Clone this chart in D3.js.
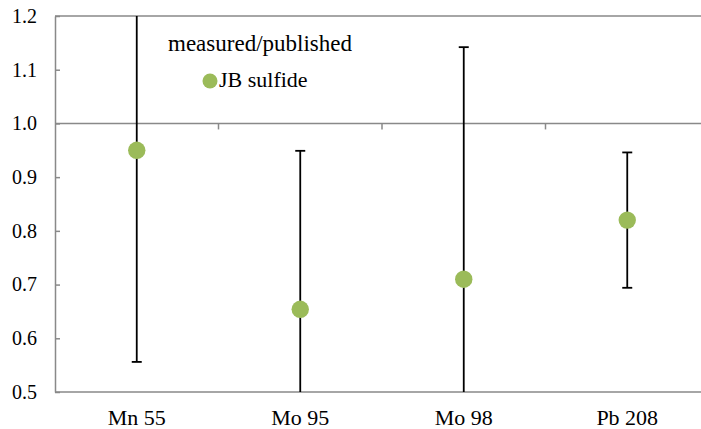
<!DOCTYPE html>
<html>
<head>
<meta charset="utf-8">
<script src="https://cdn.jsdelivr.net/npm/d3@7"></script>
<style>
  body { margin: 0; background: #fff; }
  svg text { font-family: "Liberation Serif", serif; fill: #000; }
</style>
</head>
<body>
<svg id="chart" width="701" height="429" font-family="Liberation Serif"></svg>
<script>
var categories = ["Mn 55", "Mo 95", "Mo 98", "Pb 208"];
var ratios = [0.95, 0.654, 0.71, 0.82];
var errors = [0.394, 0.295, 0.432, 0.126];
var yTicks = [0.5, 0.6, 0.7, 0.8, 0.9, 1.0, 1.1, 1.2];
var legendTitle = "measured/published";
var seriesName = "JB sulfide";

var plotL = 55, plotT = 16, plotB = 392, plotR = 709;
var axisColor = "#898989";
var green = "#9bbb59";
var serif = "Liberation Serif";

var svg = d3.select("#chart");

var x = d3.scaleBand().domain(categories).range([plotL, plotR]).padding(0);
var y = d3.scaleLinear().domain([0.5, 1.2]).range([plotB, plotT]);

svg.append("defs").append("clipPath").attr("id", "plot")
  .append("rect").attr("x", plotL).attr("y", plotT)
  .attr("width", plotR - plotL).attr("height", plotB - plotT);

// y axis, ticks inward
var yAxis = svg.append("g")
  .attr("transform", "translate(" + plotL + ",0)")
  .call(d3.axisLeft(y).tickValues(yTicks).tickFormat(d3.format(".1f"))
    .tickSizeInner(-5).tickSizeOuter(0).tickPadding(18));
yAxis.attr("font-family", serif).attr("font-size", 20);
yAxis.select(".domain").attr("stroke", axisColor).attr("stroke-width", 1.5);
yAxis.selectAll(".tick line").attr("stroke", axisColor).attr("stroke-width", 1.5);
yAxis.selectAll(".tick text").attr("fill", "#000");

// top line at 1.2 and bottom line at 0.5
[1.2, 0.5].forEach(function (v) {
  svg.append("line")
    .attr("x1", plotL).attr("x2", plotR)
    .attr("y1", y(v)).attr("y2", y(v))
    .attr("stroke", axisColor).attr("stroke-width", 1.5);
});

// horizontal axis crossing at 1.0, ticks between categories
svg.append("line")
  .attr("x1", plotL).attr("x2", plotR)
  .attr("y1", y(1.0)).attr("y2", y(1.0))
  .attr("stroke", axisColor).attr("stroke-width", 1.5);
svg.selectAll("line.xtick").data(categories.slice(1)).enter().append("line")
  .attr("class", "xtick")
  .attr("x1", d => x(d)).attr("x2", d => x(d))
  .attr("y1", y(1.0)).attr("y2", y(1.0) + 6)
  .attr("stroke", axisColor).attr("stroke-width", 1.5);

// category labels at the low position
svg.selectAll("text.xlab").data(categories).enter().append("text")
  .attr("class", "xlab")
  .attr("x", d => x(d) + x.bandwidth() / 2)
  .attr("y", 425)
  .attr("text-anchor", "middle")
  .attr("font-family", serif)
  .attr("font-size", 22)
  .text(d => d);

var pts = categories.map(function (c, i) {
  return { cat: c, v: ratios[i], e: errors[i] };
});

var plot = svg.append("g").attr("clip-path", "url(#plot)");

// error bars
var eb = plot.selectAll("g.err").data(pts).enter().append("g").attr("class", "err");
eb.append("line")
  .attr("x1", d => x(d.cat) + x.bandwidth() / 2)
  .attr("x2", d => x(d.cat) + x.bandwidth() / 2)
  .attr("y1", d => y(d.v + d.e)).attr("y2", d => y(d.v - d.e))
  .attr("stroke", "#000").attr("stroke-width", 1.8);
[1, -1].forEach(function (s) {
  eb.append("line")
    .attr("x1", d => x(d.cat) + x.bandwidth() / 2 - 5)
    .attr("x2", d => x(d.cat) + x.bandwidth() / 2 + 5)
    .attr("y1", d => y(d.v + s * d.e)).attr("y2", d => y(d.v + s * d.e))
    .attr("stroke", "#000").attr("stroke-width", 1.8);
});

// markers
plot.selectAll("circle.pt").data(pts).enter().append("circle")
  .attr("class", "pt")
  .attr("cx", d => x(d.cat) + x.bandwidth() / 2)
  .attr("cy", d => y(d.v))
  .attr("r", 8.7)
  .attr("fill", green);

// legend
svg.append("text").attr("x", 168).attr("y", 51)
  .attr("font-family", serif).attr("font-size", 23).text(legendTitle);
svg.append("circle").attr("cx", 210).attr("cy", 81).attr("r", 7.5).attr("fill", green);
svg.append("text").attr("x", 219).attr("y", 87)
  .attr("font-family", serif).attr("font-size", 22).text(seriesName);
</script>
</body>
</html>
